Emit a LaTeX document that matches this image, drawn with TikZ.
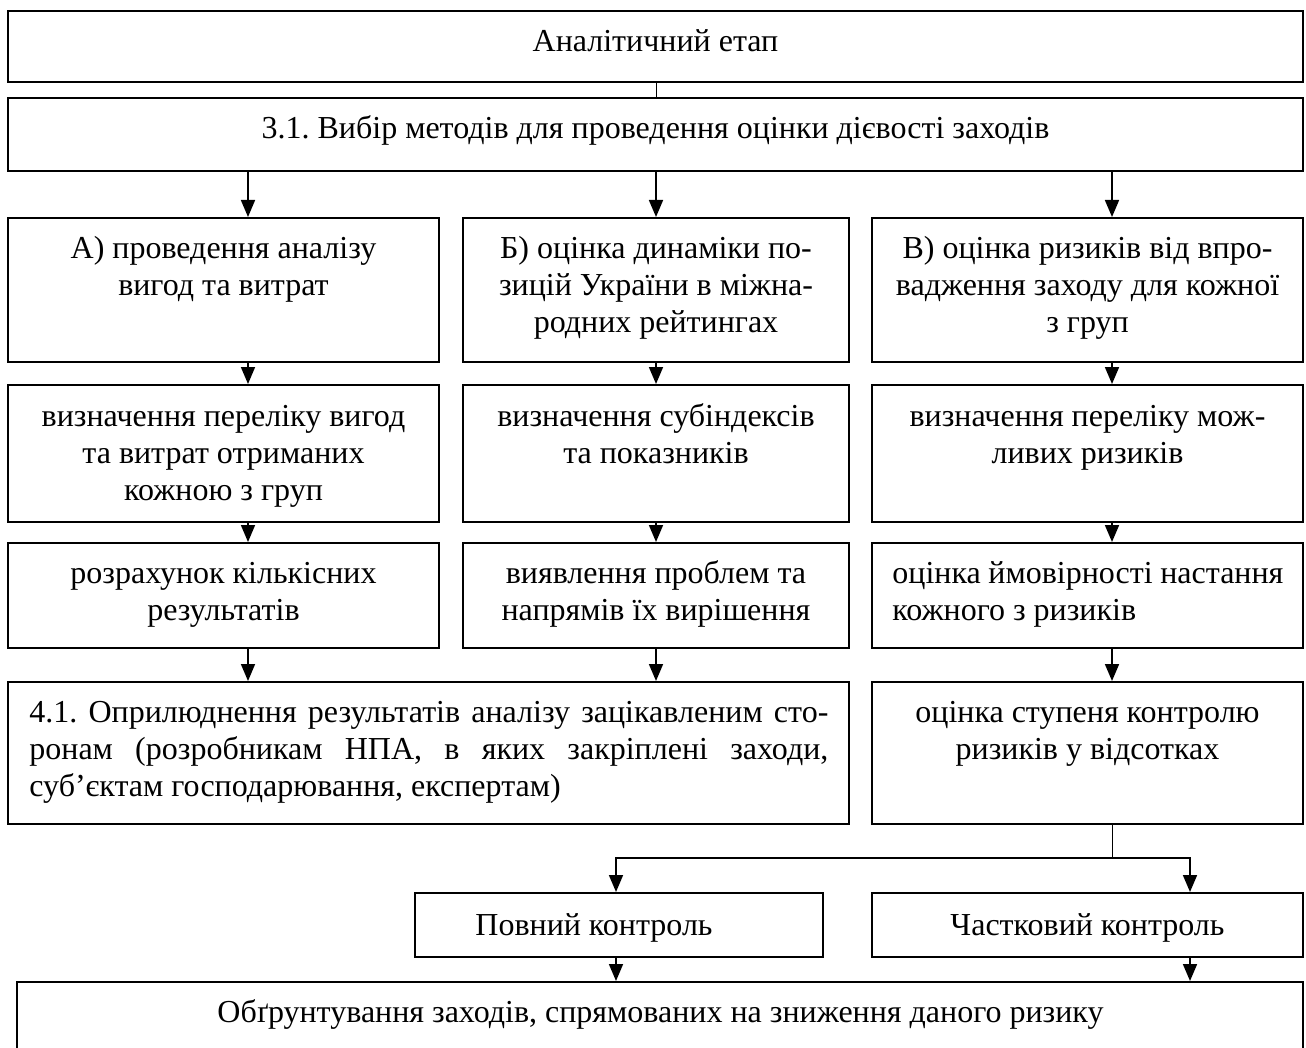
\documentclass[tikz,border=0pt]{standalone}
\usepackage{fontspec}
\setmainfont{Liberation Serif}
\usetikzlibrary{arrows.meta,fit}
\frenchspacing
\begin{document}
\begin{tikzpicture}[x=0.5pt,y=-0.5pt,
  box/.style={draw, line width=1pt, inner sep=0pt},
  txt/.style={inner sep=0pt, anchor=base, font=\fontsize{16}{18.7}\selectfont},
  ltxt/.style={txt, anchor=base west},
  arr/.style={-{Triangle[length=8.5pt,width=7pt]}, line width=0.85pt},
  thinln/.style={line width=0.5pt}
]
\useasboundingbox (0,0) rectangle (1306,1048);
\clip (0,0) rectangle (1306,1048);

% boxes
\node[box, fit={(8,11) (1303,82)}] (t0) {};
\node[box, fit={(8,98) (1303,171)}] (t1) {};
\node[box, fit={(8,218) (439,362)}] (a1) {};
\node[box, fit={(463,218) (849,362)}] (b1) {};
\node[box, fit={(872,218) (1303,362)}] (c1) {};
\node[box, fit={(8,385) (439,522)}] (a2) {};
\node[box, fit={(463,385) (849,522)}] (b2) {};
\node[box, fit={(872,385) (1303,522)}] (c2) {};
\node[box, fit={(8,543) (439,648)}] (a3) {};
\node[box, fit={(463,543) (849,648)}] (b3) {};
\node[box, fit={(872,543) (1303,648)}] (c3) {};
\node[box, fit={(8,682) (849,824)}] (d4) {};
\node[box, fit={(872,682) (1303,824)}] (c4) {};
\node[box, fit={(415,893) (823,957)}] (pk) {};
\node[box, fit={(872,893) (1303,957)}] (ck) {};
\node[box, fit={(17,982) (1303,1130)}] (fin) {};

% texts
\node[txt] (t0t) at (655.5,52) {Аналітичний етап};
\node[txt] (t1t) at (655.5,139) {3.1. Вибір методів для проведення оцінки дієвості заходів};
\node[txt] (a1t) at (223.5,258) {\parbox[t]{215pt}{\centering А) проведення аналізу\\вигод та витрат}};
\node[txt] (b1t) at (656,258) {\parbox[t]{193pt}{\centering Б) оцінка динаміки по-\\зицій України в міжна-\\родних рейтингах}};
\node[txt] (c1t) at (1087.5,258) {\parbox[t]{215pt}{\centering В) оцінка ризиків від впро-\\вадження заходу для кожної\\з груп}};
\node[txt] (a2t) at (223.5,426) {\parbox[t]{215pt}{\centering визначення переліку вигод\\та витрат отриманих\\кожною з груп}};
\node[txt] (b2t) at (656,426) {\parbox[t]{193pt}{\centering визначення субіндексів\\та показників}};
\node[txt] (c2t) at (1087.5,426) {\parbox[t]{215pt}{\centering визначення переліку мож-\\ливих ризиків}};
\node[txt] (a3t) at (223.5,583) {\parbox[t]{215pt}{\centering розрахунок кількісних\\результатів}};
\node[txt] (b3t) at (656,583) {\parbox[t]{193pt}{\centering виявлення проблем та\\напрямів їх вирішення}};
\node[ltxt] (c3t) at (892,583) {\vtop{\hbox to 195.5pt{оцінка ймовірності настання}\hbox{кожного з ризиків}}};
\node[ltxt] (d4t) at (29,722) {\vtop{\hbox to 399.5pt{4.1. Оприлюднення результатів аналізу зацікавленим сто-}\hbox to 399.5pt{ронам (розробникам НПА, в яких закріплені заходи,}\hbox{суб’єктам господарювання, експертам)}}};
\node[txt] (c4t) at (1087.5,722) {\parbox[t]{215pt}{\centering оцінка ступеня контролю\\ризиків у відсотках}};
\node[txt] (pkt) at (594,935) {Повний контроль};
\node[txt] (ckt) at (1087.5,935) {Частковий контроль};
\node[txt] (fint) at (660.5,1022) {Обґрунтування заходів, спрямованих на зниження даного ризику};

% connector columns
\coordinate (xA) at (248,0);
\coordinate (xB) at (656,0);
\coordinate (xC) at (1112,0);
\coordinate (xL) at (616,0);
\coordinate (xR) at (1190,0);
\coordinate (split) at (1112,858);

\draw[thinln] (t0.south -| xB) -- (t1.north -| xB);
\draw[arr] (t1.south -| xA) -- (a1.north -| xA);
\draw[arr] (t1.south -| xB) -- (b1.north -| xB);
\draw[arr] (t1.south -| xC) -- (c1.north -| xC);
\draw[arr] (a1.south -| xA) -- (a2.north -| xA);
\draw[arr] (b1.south -| xB) -- (b2.north -| xB);
\draw[arr] (c1.south -| xC) -- (c2.north -| xC);
\draw[arr] (a2.south -| xA) -- (a3.north -| xA);
\draw[arr] (b2.south -| xB) -- (b3.north -| xB);
\draw[arr] (c2.south -| xC) -- (c3.north -| xC);
\draw[arr] (a3.south -| xA) -- (d4.north -| xA);
\draw[arr] (b3.south -| xB) -- (d4.north -| xB);
\draw[arr] (c3.south -| xC) -- (c4.north -| xC);
\draw[thinln] (c4.south -| xC) -- (split);
\draw[arr] (split) -| (pk.north -| xL);
\draw[arr] (split) -| (ck.north -| xR);
\draw[arr] (pk.south -| xL) -- (fin.north -| xL);
\draw[arr] (ck.south -| xR) -- (fin.north -| xR);
\end{tikzpicture}
\end{document}
